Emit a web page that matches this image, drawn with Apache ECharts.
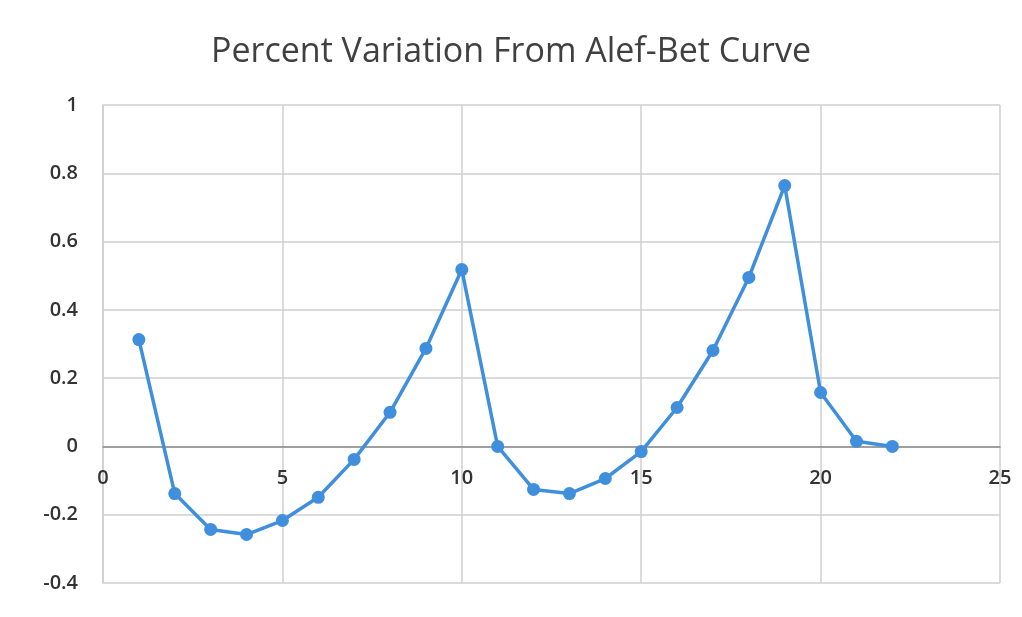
<!DOCTYPE html>
<html>
<head>
<meta charset="utf-8">
<script src="https://cdn.jsdelivr.net/npm/echarts@6/dist/echarts.min.js"></script>
<style>
  html, body { margin: 0; padding: 0; background: #fff; }
  #chart { width: 1022px; height: 617px; }
</style>
</head>
<body>
<div id="chart"></div>
<script>
// 数据
var xValues = [1, 2, 3, 4, 5, 6, 7, 8, 9, 10, 11, 12, 13, 14, 15, 16, 17, 18, 19, 20, 21, 22];
var variation = [
  0.313, -0.138, -0.243, -0.258, -0.217, -0.149, -0.038, 0.100, 0.287, 0.518, 0.000,
  -0.126, -0.138, -0.094, -0.015, 0.114, 0.281, 0.495, 0.764, 0.158, 0.015, 0.000
];
var titleText = 'Percent Variation From Alef-Bet Curve';

var points = [];
for (var i = 0; i < xValues.length; i++) {
  points.push([xValues[i], variation[i]]);
}

var chart = echarts.init(document.getElementById('chart'), null, { renderer: 'canvas' });

// 网格高度, 用于把x轴移到0处
var gridTop = 105, gridBottom = 34;
var gridH = 617 - gridTop - gridBottom;
var zeroOffset = gridH * 0.4 / 1.4;

var option = {
  backgroundColor: '#ffffff',
  animation: false,
  title: {
    text: titleText,
    left: 'center',
    top: 30,
    textStyle: {
      fontFamily: 'Open Sans',
      fontSize: 34,
      fontWeight: 'normal',
      color: '#404040'
    }
  },
  grid: {
    left: 103,
    right: 22,
    top: gridTop,
    bottom: gridBottom
  },
  xAxis: {
    type: 'value',
    min: 0,
    max: 25,
    interval: 5,
    offset: -zeroOffset,
    axisLine: { onZero: false, lineStyle: { color: '#8c8c8c', width: 1.5 } },
    axisTick: { show: false },
    axisLabel: {
      color: '#333333',
      fontFamily: 'Open Sans',
      fontSize: 20,
      fontWeight: 600,
      margin: 22
    },
    splitLine: { show: true, lineStyle: { color: '#cfcfcf', width: 1.5 } }
  },
  yAxis: {
    type: 'value',
    min: -0.4,
    max: 1,
    interval: 0.2,
    axisLine: { show: true, lineStyle: { color: '#cfcfcf', width: 1.5 } },
    axisTick: { show: false },
    axisLabel: {
      color: '#333333',
      fontFamily: 'Open Sans',
      fontSize: 20,
      fontWeight: 600,
      margin: 25,
      formatter: function (v) {
        return String(Math.round(v * 10) / 10);
      }
    },
    splitLine: { show: true, lineStyle: { color: '#cfcfcf', width: 1.5 } }
  },
  series: [
    {
      type: 'line',
      data: points,
      symbol: 'circle',
      symbolSize: 13,
      lineStyle: { color: '#3f8fdc', width: 3.5 },
      itemStyle: { color: '#3f8fdc' }
    }
  ]
};

chart.setOption(option);
</script>
</body>
</html>
